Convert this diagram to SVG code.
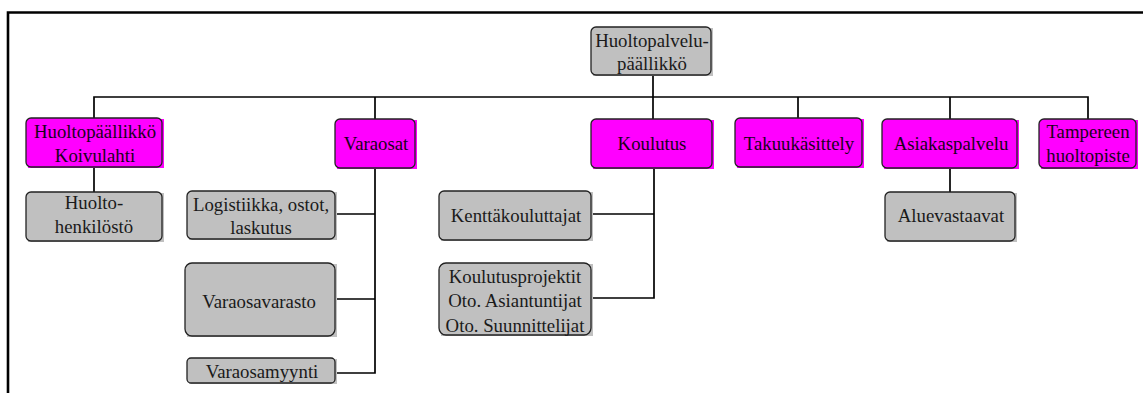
<svg xmlns="http://www.w3.org/2000/svg" width="1143" height="393" viewBox="0 0 1143 393">
  <style>
    .frame { stroke: #000; stroke-width: 2.6; fill: none; }
    .conn { stroke: #000; stroke-width: 1.7; fill: none; }
    .bg-m { fill: #ff00ff; }
    .bg-g { fill: #c0c0c0; }
    .box { stroke: #222; stroke-width: 1.3; }
    .mag { fill: #ff00ff; }
    .gry { fill: #c0c0c0; }
    .lbl { font-family: 'Liberation Serif', 'DejaVu Serif', serif; font-size: 18.8px; text-anchor: middle; }
    .tm { fill: #1a001a; }
    .tg { fill: #1a1a1a; }
  </style>

  <!-- page frame -->
  <path class="frame" d="M8 393 V12.5 H1143"/>

  <!-- connectors -->
  <g id="connectors">
    <path class="conn" d="M653 75 V119"/>
    <path class="conn" d="M94 118 V97 H1088 V119"/>
    <path class="conn" d="M375 97 V119"/>
    <path class="conn" d="M798 97 V118"/>
    <path class="conn" d="M950 97 V119"/>
    <path class="conn" d="M94 167 V192"/>
    <path class="conn" d="M375 168 V373 H335"/>
    <path class="conn" d="M335 214 H375"/>
    <path class="conn" d="M335 299 H375"/>
    <path class="conn" d="M654 168 V298 H591"/>
    <path class="conn" d="M591 214 H654"/>
    <path class="conn" d="M950 168 V192"/>
  </g>

  <g font-family="Liberation Serif, DejaVu Serif, serif">
  <!-- top -->
  <g id="huoltopalvelupaallikko">
    <rect class="bg-g" x="593" y="28" width="120" height="48"/>
    <rect class="box gry" x="591" y="27" width="120" height="48" rx="5"/>
    <text class="lbl tg" x="652" y="47">Huoltopalvelu-</text>
    <text class="lbl tg" x="652" y="70">päällikkö</text>
  </g>

  <!-- second level -->
  <g id="huoltopaallikko">
    <rect class="bg-m" x="28" y="119" width="136" height="49"/>
    <rect class="box mag" x="26" y="118" width="136" height="49" rx="5"/>
    <text class="lbl tm" x="95" y="138">Huoltopäällikkö</text>
    <text class="lbl tm" x="95" y="162">Koivulahti</text>
  </g>
  <g id="varaosat">
    <rect class="bg-m" x="337" y="120" width="80" height="49"/>
    <rect class="box mag" x="335" y="119" width="80" height="49" rx="5"/>
    <text class="lbl tm" x="376" y="150">Varaosat</text>
  </g>
  <g id="koulutus">
    <rect class="bg-m" x="593" y="120" width="121" height="49"/>
    <rect class="box mag" x="591" y="119" width="121" height="49" rx="5"/>
    <text class="lbl tm" x="652" y="150">Koulutus</text>
  </g>
  <g id="takuukasittely">
    <rect class="bg-m" x="737" y="119" width="127" height="49"/>
    <rect class="box mag" x="735" y="118" width="127" height="49" rx="5"/>
    <text class="lbl tm" x="799" y="150">Takuukäsittely</text>
  </g>
  <g id="asiakaspalvelu">
    <rect class="bg-m" x="884" y="120" width="135" height="49"/>
    <rect class="box mag" x="882" y="119" width="135" height="49" rx="5"/>
    <text class="lbl tm" x="951" y="150">Asiakaspalvelu</text>
  </g>
  <g id="tampereen-huoltopiste">
    <rect class="bg-m" x="1041" y="120" width="97" height="49"/>
    <rect class="box mag" x="1039" y="119" width="97" height="49" rx="5"/>
    <text class="lbl tm" x="1088" y="138">Tampereen</text>
    <text class="lbl tm" x="1088" y="162">huoltopiste</text>
  </g>

  <!-- third level -->
  <g id="huoltohenkilosto">
    <rect class="bg-g" x="28" y="193" width="136" height="49"/>
    <rect class="box gry" x="26" y="192" width="136" height="49" rx="5"/>
    <text class="lbl tg" x="94" y="209">Huolto-</text>
    <text class="lbl tg" x="94" y="233">henkilöstö</text>
  </g>
  <g id="logistiikka">
    <rect class="bg-g" x="189" y="192" width="148" height="48"/>
    <rect class="box gry" x="187" y="191" width="148" height="48" rx="5"/>
    <text class="lbl tg" x="261" y="211">Logistiikka, ostot,</text>
    <text class="lbl tg" x="261" y="234">laskutus</text>
  </g>
  <g id="varaosavarasto">
    <rect class="bg-g" x="187" y="264" width="150" height="73"/>
    <rect class="box gry" x="185" y="263" width="150" height="73" rx="7"/>
    <text class="lbl tg" x="259" y="308">Varaosavarasto</text>
  </g>
  <g id="varaosamyynti">
    <rect class="bg-g" x="189" y="359" width="148" height="25"/>
    <rect class="box gry" x="187" y="358" width="148" height="25" rx="4"/>
    <text class="lbl tg" x="262" y="378">Varaosamyynti</text>
  </g>
  <g id="kenttakouluttajat">
    <rect class="bg-g" x="441" y="192" width="152" height="49"/>
    <rect class="box gry" x="439" y="191" width="152" height="49" rx="5"/>
    <text class="lbl tg" x="516" y="222">Kenttäkouluttajat</text>
  </g>
  <g id="koulutusprojektit">
    <rect class="bg-g" x="441" y="264" width="152" height="72"/>
    <rect class="box gry" x="439" y="263" width="152" height="72" rx="7"/>
    <text class="lbl tg" x="515" y="283">Koulutusprojektit</text>
    <text class="lbl tg" x="515" y="307">Oto. Asiantuntijat</text>
    <text class="lbl tg" x="515" y="332">Oto. Suunnittelijat</text>
  </g>
  <g id="aluevastaavat">
    <rect class="bg-g" x="887" y="193" width="130" height="49"/>
    <rect class="box gry" x="885" y="192" width="130" height="49" rx="5"/>
    <text class="lbl tg" x="951" y="222">Aluevastaavat</text>
  </g>
  </g>
</svg>
